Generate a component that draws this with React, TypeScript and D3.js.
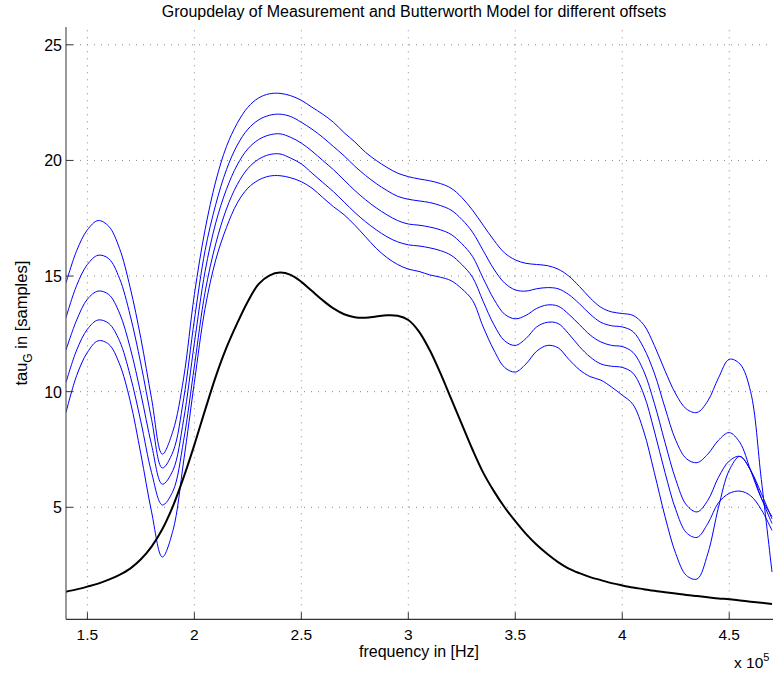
import React from "react";
import * as d3 from "d3";

const freq = d3.range(0, 67).map((i) => +(1.4 + i * 0.05).toFixed(2));

const model = [
  1.35, 1.45, 1.57, 1.7, 1.87, 2.08, 2.35, 2.75, 3.3, 4.05, 5.05, 6.3, 7.7, 9.2, 10.65, 11.9, 12.95, 13.9, 14.65, 15.02,
  15.15, 15.05, 14.75, 14.35, 13.95, 13.6, 13.35, 13.22, 13.2, 13.25, 13.3, 13.28, 13.1, 12.6, 11.8, 10.8, 9.7, 8.6, 7.5, 6.5,
  5.7, 5.0, 4.4, 3.85, 3.38, 2.98, 2.63, 2.35, 2.15, 1.98, 1.85, 1.72, 1.62, 1.53, 1.46, 1.39, 1.33, 1.27, 1.21, 1.16,
  1.11, 1.06, 1.02, 0.97, 0.92, 0.87, 0.82,
];

const offsetA = [
  14.7, 16.1, 17.0, 17.4, 17.15, 16.2, 14.5, 12.3, 9.7, 7.3, 8.3, 10.6, 14.2, 17.0, 19.1, 20.6, 21.6, 22.3, 22.7, 22.88,
  22.9, 22.8, 22.6, 22.3, 22.0, 21.65, 21.2, 20.8, 20.35, 20.0, 19.7, 19.45, 19.3, 19.2, 19.12, 19.0, 18.8, 18.4, 17.85, 17.2,
  16.55, 16.0, 15.7, 15.55, 15.5, 15.45, 15.3, 15.0, 14.55, 14.05, 13.65, 13.45, 13.38, 13.3, 12.9, 12.0, 10.9, 9.9, 9.25, 9.1,
  9.6, 10.6, 11.4, 11.2, 10.0, 6.2, 2.2,
];

const offsetB = [
  13.2, 14.6, 15.5, 15.9, 15.75, 14.9, 13.3, 11.2, 8.8, 6.7, 7.4, 9.7, 13.1, 16.1, 18.1, 19.6, 20.65, 21.35, 21.75, 21.95,
  22.0, 21.9, 21.65, 21.35, 21.0, 20.6, 20.2, 19.75, 19.35, 19.0, 18.7, 18.45, 18.32, 18.25, 18.18, 18.05, 17.85, 17.45, 16.9, 16.1,
  15.3, 14.7, 14.4, 14.35, 14.45, 14.5, 14.45, 14.2, 13.8, 13.35, 13.0, 12.85, 12.8, 12.6, 11.9, 10.8, 9.3, 7.9, 7.1, 6.93,
  7.3, 7.9, 8.23, 7.8, 6.6, 5.4, 4.6,
];

const offsetC = [
  11.8, 13.1, 14.0, 14.35, 14.2, 13.4, 11.9, 9.9, 7.7, 6.0, 6.6, 8.8, 12.1, 15.2, 17.3, 18.75, 19.8, 20.5, 20.9, 21.1,
  21.15, 21.0, 20.75, 20.4, 20.0, 19.6, 19.15, 18.7, 18.3, 17.95, 17.65, 17.4, 17.25, 17.2, 17.12, 17.0, 16.8, 16.4, 15.85, 14.9,
  14.0, 13.35, 13.15, 13.3, 13.6, 13.75, 13.7, 13.35, 12.9, 12.45, 12.15, 12.0, 11.95, 11.7, 10.9, 9.5, 7.8, 6.2, 5.1, 4.8,
  5.3, 6.3, 7.0, 7.2, 6.6, 5.4, 4.3,
];

const offsetD = [
  10.4, 11.8, 12.7, 13.1, 12.95, 12.2, 10.7, 8.7, 6.5, 5.1, 5.7, 7.9, 11.1, 14.3, 16.4, 17.9, 18.95, 19.65, 20.05, 20.25,
  20.28, 20.1, 19.85, 19.45, 19.05, 18.65, 18.2, 17.75, 17.35, 17.0, 16.7, 16.48, 16.35, 16.3, 16.22, 16.1, 15.9, 15.5, 14.95, 13.9,
  12.9, 12.2, 12.0, 12.3, 12.8, 13.0, 12.95, 12.5, 11.95, 11.5, 11.2, 11.1, 11.05, 10.8, 9.9, 8.3, 6.5, 4.9, 3.9, 3.7,
  4.3, 5.2, 5.6, 5.7, 5.5, 4.9, 4.0,
];

const offsetE = [
  9.1, 10.7, 11.7, 12.2, 12.05, 11.2, 9.6, 7.3, 4.8, 2.85, 4.0, 7.0, 10.4, 13.6, 15.7, 17.1, 18.15, 18.8, 19.15, 19.32,
  19.34, 19.25, 19.08, 18.8, 18.4, 18.0, 17.65, 17.2, 16.7, 16.2, 15.8, 15.5, 15.3, 15.2, 15.05, 14.95, 14.8, 14.45, 13.95, 12.8,
  11.8, 11.05, 10.85, 11.2, 11.75, 12.0, 11.9, 11.4, 10.95, 10.65, 10.5, 10.2, 9.85, 9.45, 8.3, 6.5, 4.6, 3.0, 2.05, 1.9,
  3.0, 5.0, 6.6, 7.2, 6.6, 5.6, 4.5,
];

const measured = [offsetA, offsetB, offsetC, offsetD, offsetE];

const xTicks = [1.5, 2, 2.5, 3, 3.5, 4, 4.5];
const yTicks = [5, 10, 15, 20, 25];

const W = 773;
const H = 675;
const left = 66;
const right = 772;
const top = 27;
const bottom = 619.3;

export default function App() {
  const x = d3.scaleLinear().domain([1.4, 4.7]).range([left, right]);
  const y = d3.scaleLinear().domain([0.156, 25.77]).range([bottom, top]);
  const line = (vals: number[]) =>
    d3
      .line<number>()
      .x((_, i) => x(freq[i]))
      .y((v) => y(v))
      .curve(d3.curveCatmullRom.alpha(0.5))(vals) || "";

  const font = "'Liberation Sans', Arial, Helvetica, sans-serif";
  return (
    <svg
      width={W}
      height={H}
      style={{ position: "absolute", left: 0, top: 0, background: "#fff" }}
      fontFamily={font}
    >
      <defs>
        <clipPath id="plot">
          <rect x={left} y={top} width={W - left} height={bottom - top} />
        </clipPath>
      </defs>
      <rect width={W} height={H} fill="#fff" />
      {xTicks.map((t) => (
        <line
          key={"gx" + t}
          x1={x(t)}
          x2={x(t)}
          y1={bottom}
          y2={top}
          stroke="#888"
          strokeWidth={1}
          strokeDasharray="1 6"
        />
      ))}
      {yTicks.map((t) => (
        <line
          key={"gy" + t}
          x1={left}
          x2={W}
          y1={y(t)}
          y2={y(t)}
          stroke="#888"
          strokeWidth={1}
          strokeDasharray="1 6"
        />
      ))}
      <g clipPath="url(#plot)">
        {measured.map((s, i) => (
          <path key={i} d={line(s)} fill="none" stroke="#0000ff" strokeWidth={1} />
        ))}
        <path d={line(model)} fill="none" stroke="#000" strokeWidth={2} />
      </g>
      <line x1={left} x2={left} y1={top} y2={bottom} stroke="#555" strokeWidth={1.2} />
      <line x1={left} x2={W} y1={bottom} y2={bottom} stroke="#333" strokeWidth={1.2} />
      {xTicks.map((t) => (
        <g key={"tx" + t}>
          <line x1={x(t)} x2={x(t)} y1={bottom} y2={bottom - 7} stroke="#333" />
          <text x={x(t)} y={bottom + 21} fontSize={15.5} textAnchor="middle" fill="#000">
            {t}
          </text>
        </g>
      ))}
      {yTicks.map((t) => (
        <g key={"ty" + t}>
          <line x1={left} x2={left + 7} y1={y(t)} y2={y(t)} stroke="#333" />
          <text x={left - 4} y={y(t) + 6} fontSize={16} textAnchor="end" fill="#000">
            {t}
          </text>
        </g>
      ))}
      <text x={414} y={17} fontSize={16} textAnchor="middle" fill="#000">
        Groupdelay of Measurement and Butterworth Model for different offsets
      </text>
      <text x={419} y={657} fontSize={16} textAnchor="middle" fill="#000">
        frequency in [Hz]
      </text>
      <text x={734} y={668} fontSize={15.5} fill="#000">
        x 10<tspan dy={-7} fontSize={11}>5</tspan>
      </text>
      <text transform={`translate(27, ${(top + bottom) / 2}) rotate(-90)`} fontSize={16.5} textAnchor="middle" fill="#000">
        tau<tspan dy={5} fontSize={12}>G</tspan>
        <tspan dy={-5}> in [samples]</tspan>
      </text>
    </svg>
  );
}
